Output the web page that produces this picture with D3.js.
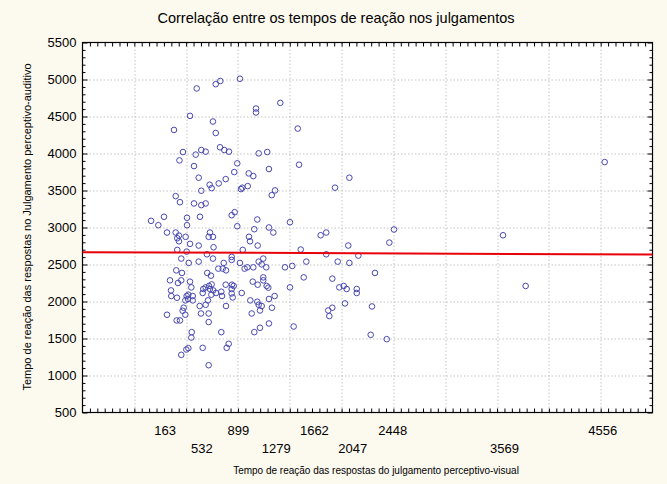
<!DOCTYPE html>
<html>
<head>
<meta charset="utf-8">
<script src="https://cdn.jsdelivr.net/npm/d3@7"></script>
<style>
  body { margin: 0; background: #fcf9ef; }
  svg { display: block; font-family: "Liberation Sans", Arial, sans-serif; }
</style>
</head>
<body>
<div id="chart"></div>
<script>
// reaction times (visual, auditory)
const visual = [
  920, 723, 677, 486, 1081, 1081, 1325, 419, 649, 258, 677, 1500, 720, 763, 810, 348,
  532, 576, 476, 313, 459, 1108, 1194, 1211, 1513, 893, 863, 1008, 1054, 506, 777, 707,
  616, 636, 532, 998, 944, 930, 1272, 1239, 1874, 2018, 275, 318, 459, 576, 532, 158,
  28, 101, 389, 389, 519, 837, 867, 1094, 1422, 893, 1211, 1064,
  1255, 188, 275, 308, 291, 308, 375, 619, 606, 649, 1011, 1021, 1730, 1786, 2007, 419,
  506, 655, 1098, 291, 385, 589, 948, 1530, 1786, 2108, 331, 649, 837, 837, 1154, 406,
  506, 757, 920, 1108, 1138, 1586, 1901, 2018, 703, 747, 780, 967, 994, 1054, 1184, 1372,
  1445, 281, 338, 592, 629, 298, 331, 218, 419, 1048, 1154, 1154, 1098, 1188, 1205, 777,
  840, 857, 609, 636, 1560, 1847, 1422, 1917, 1961, 1991, 2092, 2092, 432, 228, 231, 288,
  385, 402, 446, 446, 372, 399, 552, 576, 619, 652, 680, 633, 546, 733, 740, 837,
  837, 847, 938, 516, 576, 599, 780, 355, 345, 372, 188, 529, 606, 1024, 1094, 1108,
  1138, 1121, 1211, 1268, 1241, 1038, 606, 285, 318, 1211, 1459, 1806, 1847, 1817, 1974, 733,
  436, 432, 1064, 1121, 807, 787, 546, 402, 382, 331, 606,
  4580, 2466, 3560, 2419, 2275, 3787, 2245, 2232, 2393
];
const auditivo = [
  5010, 4980, 4937, 4879, 4608, 4554, 4684, 4508, 4432, 4318, 4277, 4337, 4084, 4047, 4025, 4020,
  4047, 4025, 3985, 3907, 3830, 4002, 4020, 3790, 3849, 3867, 3749, 3731, 3695, 3673, 3654, 3596,
  3578, 3532, 3497, 3559, 3538, 3519, 3501, 3437, 3538, 3673, 3424, 3342, 3325, 3325, 3302, 3145,
  3090, 3031, 3131, 3031, 3145, 3166, 3207, 3108, 3071, 3017, 3000, 2977,
  2932, 2932, 2932, 2891, 2855, 2814, 2874, 2932, 2874, 2874, 2874, 2814, 2895, 2932, 2756, 2779,
  2756, 2733, 2756, 2697, 2674, 2638, 2697, 2702, 2638, 2620, 2580, 2580, 2603, 2562, 2580, 2521,
  2539, 2521, 2521, 2539, 2502, 2539, 2539, 2521, 2444, 2444, 2421, 2444, 2462, 2462, 2462, 2462,
  2481, 2421, 2386, 2386, 2349, 2250, 2286, 2286, 2268, 2268, 2326, 2286, 2227, 2210, 2187, 2227,
  2227, 2210, 2210, 2231, 2326, 2309, 2191, 2191, 2210, 2169, 2169, 2115, 2191, 2150, 2074, 2051,
  2074, 2092, 2074, 2015, 2015, 2034, 2169, 2191, 2169, 2150, 2115, 2092, 2115, 2132, 2074, 2169,
  2109, 2055, 2115, 1939, 1956, 2015, 1939, 1916, 1875, 1821, 1821, 1838, 1838, 2015, 1997, 1956,
  1939, 1879, 2034, 2074, 1916, 1838, 1722, 1744, 1744, 1703, 1662, 1879, 1916, 1803, 1974, 1586,
  1586, 1513, 1586, 1645, 1428, 1374, 1374, 1370, 1351, 1279, 1139,
  3884, 2973, 2895, 2796, 2386, 2210, 1933, 1550, 1491
];

// fitted line: auditivo = intercept + slope * visual
const fit = [2663, -0.0054];

const xTickLabels = [163, 532, 899, 1279, 1662, 2047, 2448, 3569, 4556];
const yTickLabels = [500, 1000, 1500, 2000, 2500, 3000, 3500, 4000, 4500, 5000, 5500];
const xGrid = [-140, 380, 900, 1420, 1940, 2460, 2980, 3500, 4020, 4540];

const margin = {top: 42.5, left: 82.5},
    width = 570,
    height = 370;

const svg = d3.select("#chart")
  .append("svg")
    .attr("width", 667)
    .attr("height", 484);

const g = svg.append("g")
    .attr("transform", `translate(${margin.left}, ${margin.top})`);

const x = d3.scaleLinear().domain([-660, 5060]).range([0, width]);
const y = d3.scaleLinear().domain([500, 5500]).range([height, 0]);

// white plot area
g.append("rect")
  .attr("width", width)
  .attr("height", height)
  .attr("fill", "#fff");

// grid
g.selectAll(".vgrid")
  .data(xGrid)
  .enter()
  .append("line")
    .attr("x1", d => Math.round(x(d)) + 0.5)
    .attr("x2", d => Math.round(x(d)) + 0.5)
    .attr("y1", 0)
    .attr("y2", height)
    .attr("stroke", "#c4c4c4")
    .attr("stroke-dasharray", "1.5,2");

g.selectAll(".hgrid")
  .data(yTickLabels.slice(1, -1))
  .enter()
  .append("line")
    .attr("y1", d => Math.round(y(d)) + 0.5)
    .attr("y2", d => Math.round(y(d)) + 0.5)
    .attr("x1", 0)
    .attr("x2", width)
    .attr("stroke", "#c4c4c4")
    .attr("stroke-dasharray", "1.5,2");

// inward ticks on all four sides
const yMinor = d3.range(600, 5500, 100).filter(v => v % 500 !== 0);
const xMinor = d3.range(1, 77).map(i => -660 + i * 520 / 7);

function ticks(axis, vals, size) {
  return axis.tickValues(vals).tickSize(size).tickFormat("");
}
[[d3.axisRight, 0], [d3.axisLeft, width]].forEach(([mk, tx]) => {
  g.append("g").attr("transform", `translate(${tx},0)`)
    .call(ticks(mk(y), yMinor, 3)).call(s => s.select(".domain").remove());
  g.append("g").attr("transform", `translate(${tx},0)`)
    .call(ticks(mk(y), yTickLabels, 5)).call(s => s.select(".domain").remove());
});
g.append("g").attr("transform", `translate(0,${height})`)
  .call(ticks(d3.axisTop(x), xMinor, 4)).call(s => s.select(".domain").remove());
g.append("g")
  .call(ticks(d3.axisBottom(x), xMinor, 4)).call(s => s.select(".domain").remove());
g.selectAll(".tick line").attr("stroke", "#000");

// frame
g.append("rect")
  .attr("width", width)
  .attr("height", height)
  .attr("fill", "none")
  .attr("stroke", "#000")
  .attr("stroke-width", 1.2);

// y labels
g.append("g")
  .call(d3.axisLeft(y).tickValues(yTickLabels).tickFormat(d3.format("d")).tickSize(0).tickPadding(6))
  .call(s => s.select(".domain").remove())
  .selectAll("text")
    .attr("font-size", 13)
    .attr("font-family", "Liberation Sans, Arial, sans-serif")
    .attr("fill", "#000");

// x labels, two alternating rows
[0, 1].forEach(row => {
  g.append("g")
    .attr("transform", `translate(0,${height})`)
    .call(d3.axisBottom(x)
      .tickValues(xTickLabels.filter((d, i) => i % 2 === row))
      .tickFormat(d3.format("d"))
      .tickSize(0)
      .tickPadding(row === 0 ? 13 : 31))
    .call(s => s.select(".domain").remove())
    .selectAll("text")
      .attr("font-size", 13)
      .attr("font-family", "Liberation Sans, Arial, sans-serif")
      .attr("fill", "#000");
});

// points
g.selectAll(".pt")
  .data(visual.map((v, i) => [v, auditivo[i]]))
  .enter()
  .append("circle")
    .attr("cx", d => x(d[0]))
    .attr("cy", d => y(d[1]))
    .attr("r", 2.8)
    .attr("fill", "none")
    .attr("stroke", "#4848b0")
    .attr("stroke-width", 1);

// regression line
const line = d3.line().x(d => x(d)).y(d => y(fit[0] + fit[1] * d));
g.append("path")
  .datum(x.domain())
  .attr("d", line)
  .attr("fill", "none")
  .attr("stroke", "#e8000b")
  .attr("stroke-width", 2);

// titles
svg.append("text")
  .attr("x", 336)
  .attr("y", 23)
  .attr("text-anchor", "middle")
  .attr("font-size", 14.5)
  .text("Correlação entre os tempos de reação nos julgamentos");

svg.append("text")
  .attr("x", 376)
  .attr("y", 474)
  .attr("text-anchor", "middle")
  .attr("font-size", 10)
  .text("Tempo de reação das respostas do julgamento perceptivo-visual");

svg.append("text")
  .attr("transform", "translate(31,227) rotate(-90)")
  .attr("text-anchor", "middle")
  .attr("font-size", 11)
  .text("Tempo de reação das respostas no Julgamento perceptivo-auditivo");
</script>
</body>
</html>
